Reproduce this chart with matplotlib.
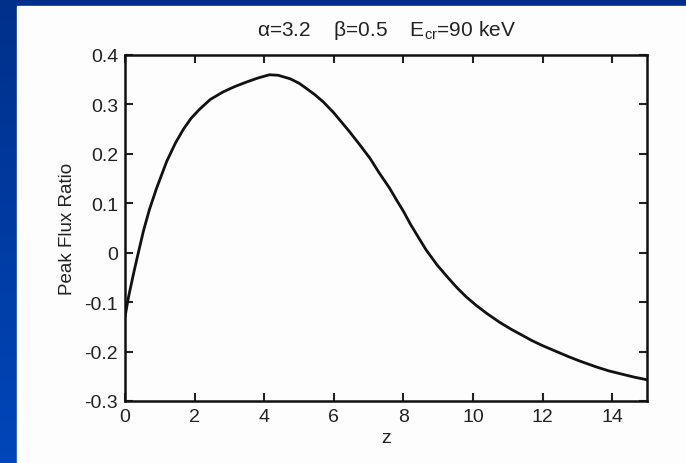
import numpy as np
import matplotlib
matplotlib.use("Agg")
import matplotlib.pyplot as plt
from matplotlib.colors import LinearSegmentedColormap

plt.rcParams["font.family"] = ["Liberation Sans", "DejaVu Sans"]
plt.rcParams["mathtext.fontset"] = "custom"
plt.rcParams["mathtext.rm"] = "Liberation Sans"

# ── data ──────────────────────────────────────────────────────────────────────
z_vals = [0.0, 0.1, 0.24, 0.35, 0.53, 0.7, 0.91, 1.2, 1.45, 1.68, 1.9, 2.14,
          2.45, 2.81, 3.15, 3.48, 3.8, 4.15, 4.4, 4.74, 5.0, 5.2, 5.45, 5.7,
          6.0, 6.45, 6.75, 7.04, 7.3, 7.6, 7.8, 8.0, 8.2, 8.38, 8.65, 8.96,
          9.25, 9.53, 9.8, 10.1, 10.4, 10.77, 11.1, 11.44, 11.7, 12.0, 12.4,
          12.77, 13.1, 13.54, 13.9, 14.3, 14.65, 15.0]
ratio = [-0.13, -0.09, -0.044, -0.01, 0.044, 0.087, 0.131, 0.185, 0.222,
         0.250, 0.272, 0.290, 0.31, 0.325, 0.336, 0.345, 0.353, 0.360, 0.359,
         0.352, 0.343, 0.333, 0.320, 0.305, 0.283, 0.245, 0.218, 0.191, 0.162,
         0.131, 0.107, 0.084, 0.058, 0.037, 0.006, -0.024, -0.048, -0.070,
         -0.089, -0.107, -0.123, -0.141, -0.155, -0.168, -0.178, -0.188,
         -0.200, -0.211, -0.220, -0.231, -0.239, -0.246, -0.252, -0.257]
x_ticks = [0, 2, 4, 6, 8, 10, 12, 14]
y_ticks = [-0.3, -0.2, -0.1, 0, 0.1, 0.2, 0.3, 0.4]
y_ticklabels = ["-0.3", "-0.2", "-0.1", "0", "0.1", "0.2", "0.3", "0.4"]

W, H = 686, 464
fig = plt.figure(figsize=(W / 100, H / 100), dpi=100)

# blue slide background with gradient, white page on top
bg = fig.add_axes([0, 0, 1, 1], zorder=-10)
cmap = LinearSegmentedColormap.from_list("slide", ["#00308A", "#0046BA"])
bg.imshow(np.linspace(0, 1, 256).reshape(-1, 1), cmap=cmap, aspect="auto",
          extent=[0, 1, 0, 1])
bg.add_patch(plt.Rectangle((17 / W, 0), 1, 1 - 7 / H, color="#FDFDFD", zorder=2))
bg.set_xlim(0, 1)
bg.set_ylim(0, 1)
bg.axis("off")

ax = fig.add_axes([125 / W, 1 - 402 / H, (647 - 125) / W, (402 - 56) / H])
ax.set_facecolor("none")
ax.plot(z_vals, ratio, color="#111111", linewidth=2.0, solid_capstyle="round")

ax.set_xlim(0, 15)
ax.set_ylim(-0.3, 0.4)
ax.set_xticks(x_ticks)
ax.set_yticks(y_ticks)
ax.set_yticklabels(y_ticklabels)
ax.tick_params(direction="in", length=6, width=1.5, top=True, right=True,
               labelsize=14, colors="#222222", pad=5)
for s in ax.spines.values():
    s.set_linewidth(1.8)
    s.set_color("#111111")

ax.set_xlabel("z", fontsize=14, color="#222222", labelpad=3)
ax.set_ylabel("Peak Flux Ratio", fontsize=13.5, color="#222222", labelpad=6)

fig.text(0.5 * (125 + 647) / W, 1 - 31 / H,
         "α=3.2    β=0.5    E$_{\\rm cr}$=90 keV",
         ha="center", va="center", fontsize=15, color="#222222")

fig.savefig("out.png", dpi=100)
